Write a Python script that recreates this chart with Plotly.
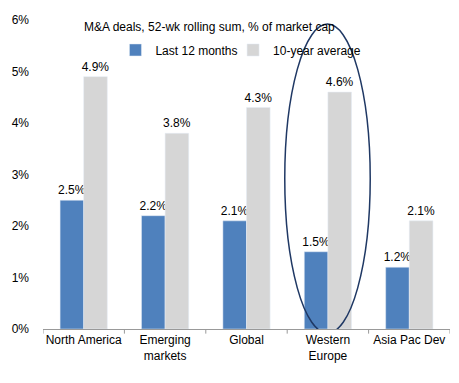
import plotly.graph_objects as go

categories = ["North America", "Emerging<br>markets", "Global", "Western<br>Europe", "Asia Pac Dev"]
last_12m = [2.5, 2.2, 2.1, 1.5, 1.2]
ten_year_avg = [4.9, 3.8, 4.3, 4.6, 2.1]
y_ticks = [0, 1, 2, 3, 4, 5, 6]
y_tick_labels = ["0%", "1%", "2%", "3%", "4%", "5%", "6%"]

FONT = "Liberation Sans, Arial, sans-serif"
x = list(range(len(categories)))

fig = go.Figure()
fig.add_trace(go.Bar(
    x=x, y=last_12m, name="Last 12 months", marker_color="#4F81BD",
    text=[f"{v:.1f}%" for v in last_12m], textposition="outside",
    textfont=dict(size=12, color="#000000"), cliponaxis=False,
    constraintext="none", legend="legend",
))
fig.add_trace(go.Bar(
    x=x, y=ten_year_avg, name="10-year average", marker_color="#D6D6D6",
    text=[f"{v:.1f}%" for v in ten_year_avg], textposition="outside",
    textfont=dict(size=12, color="#000000"), cliponaxis=False,
    constraintext="none", legend="legend2",
))

# ellipse highlighting Western Europe
fig.add_shape(type="circle", xref="x", yref="y",
              x0=2.47, x1=3.52, y0=-0.08, y1=5.92,
              line=dict(color="#1F3864", width=1.5), fillcolor="rgba(0,0,0,0)")

fig.add_annotation(text="M&A deals, 52-wk rolling sum, % of market cap",
                   xref="paper", yref="paper", x=0.096, y=0.977,
                   xanchor="left", yanchor="middle", showarrow=False,
                   font=dict(size=12, color="#000000", family=FONT))

legend_style = dict(orientation="h", yanchor="middle", xanchor="left",
                    font=dict(size=12), bgcolor="rgba(0,0,0,0)", itemwidth=30)

# page body has an 8px margin, so the figure is shrunk accordingly
fig.update_layout(
    width=451, height=375,
    margin=dict(l=35, r=9, t=12, b=54),
    paper_bgcolor="white", plot_bgcolor="white",
    font=dict(family=FONT, size=12, color="#000000"),
    barmode="group", bargap=0.42, bargroupgap=0,
    showlegend=True,
    legend=dict(x=0.178, y=0.903, **legend_style),
    legend2=dict(x=0.467, y=0.903, **legend_style),
    xaxis=dict(tickvals=x, ticktext=categories, range=[-0.5, 4.5],
               showline=True, linecolor="#999999", linewidth=1,
               ticks="", showgrid=False, zeroline=False, automargin=False,
               tickfont=dict(size=12)),
    yaxis=dict(range=[0, 6], tickvals=y_ticks, ticktext=y_tick_labels,
               showgrid=False, zeroline=False, showline=False, automargin=False,
               ticklabelstandoff=13, tickfont=dict(size=12)),
)

# category boundary tick marks on x axis
for b in [-0.5, 0.5, 1.5, 2.5, 3.5, 4.5]:
    fig.add_shape(type="line", xref="x", yref="paper", x0=b, x1=b, y0=0, y1=-0.015,
                  line=dict(color="#999999", width=1))

fig.write_html("out.html")
